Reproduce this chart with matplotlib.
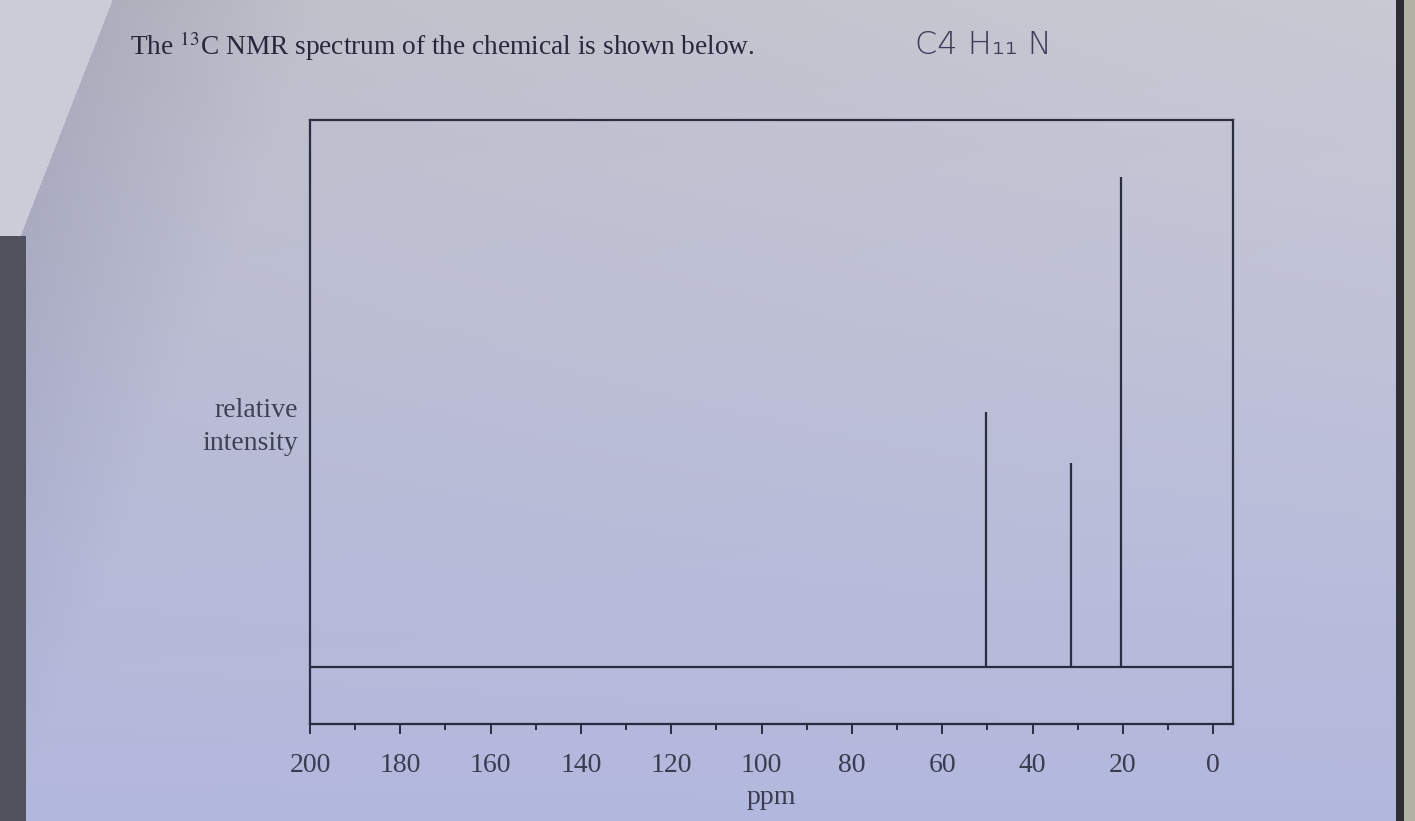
import numpy as np
import matplotlib
matplotlib.use('Agg')
import matplotlib.pyplot as plt
import matplotlib.ticker as ticker

# dados (isobutilamina, C4H11N)
shifts_ppm = [50.2, 31.5, 20.4]
intensidade = [52.0, 41.6, 100.0]
x_ticks = [200, 180, 160, 140, 120, 100, 80, 60, 40, 20, 0]

cor_tinta = '#2a2c40'
W, H = 1415, 821

fig = plt.figure(figsize=(W / 100, H / 100), dpi=100)

# ------------------------------------------------------------------
# fundo da foto (papel iluminado, sombra da dobra, bordas escuras)
# ------------------------------------------------------------------
yy, xx = np.mgrid[0:H, 0:W]
fy = yy / H
fx = xx / W
topo = np.array([0.77, 0.77, 0.81])
base = np.array([0.70, 0.72, 0.87])
img = topo[None, None, :] * (1 - fy[..., None]) + base[None, None, :] * fy[..., None]
img = img + 0.04 * (fx[..., None] - 0.5) * (1 - fy[..., None])
# dobra do papel no canto superior esquerdo
d = xx + 0.39 * yy - 112
dobra = d < 0
img[dobra] = np.array([0.80, 0.80, 0.85])
sombra = np.clip(1 - d / 220.0, 0, 1) * (~dobra)
img = img - 0.07 * sombra[..., None] * np.array([1.0, 1.0, 0.8])
# faixa escura a esquerda e borda a direita
img[(xx < 26) & (yy > 235)] = np.array([0.32, 0.32, 0.37])
img[:, 1396:1404] = np.array([0.18, 0.18, 0.20])
img[:, 1404:] = np.array([0.70, 0.70, 0.64])
img = np.clip(img, 0, 1)

ax_bg = fig.add_axes([0, 0, 1, 1], zorder=-1)
ax_bg.imshow(img, aspect='auto', interpolation='bilinear')
ax_bg.axis('off')

# ------------------------------------------------------------------
# espectro
# ------------------------------------------------------------------
ax = fig.add_axes([310 / W, 1 - 724 / H, 923 / W, 604 / H])
ax.patch.set_alpha(0)

ax.hlines(0, 200, -4.4, color=cor_tinta, lw=1.6)
ax.vlines(shifts_ppm, 0, intensidade, color=cor_tinta, lw=1.6)

ax.set_xlim(200, -4.4)
ax.set_ylim(-11.6, 111.6)

ax.set_xticks(x_ticks)
ax.set_xticklabels([str(t) for t in x_ticks])
ax.xaxis.set_minor_locator(ticker.MultipleLocator(10))
ax.set_yticks([])
ax.tick_params(axis='x', which='major', direction='out', length=7, width=1.4,
               color=cor_tinta, labelsize=20, labelcolor='#3a3c52', pad=14)
ax.tick_params(axis='x', which='minor', direction='out', length=4.5, width=1.4,
               color=cor_tinta)
for lab in ax.get_xticklabels():
    lab.set_family('Liberation Serif')

for sp in ax.spines.values():
    sp.set_color(cor_tinta)
    sp.set_linewidth(1.6)

ax.set_xlabel('ppm', fontsize=20, family='Liberation Serif', color='#3a3c52', labelpad=5)

# textos da pagina
fig.text(298 / W, 1 - 427 / H, 'relative\nintensity', ha='right', va='center',
         fontsize=20, family='Liberation Serif', color='#3e4056', linespacing=1.4)
fig.text(130 / W, 1 - 46 / H, 'The $^{13}$C NMR spectrum of the chemical is shown below.',
         ha='left', va='center', fontsize=19.7, family='Liberation Serif', color='#25273a',
         math_fontfamily='stix')
fig.text(915 / W, 1 - 45 / H, 'C4 H\u2081\u2081 N', ha='left', va='center',
         fontsize=23, family='DejaVu Sans', fontweight='light', color='#3a3c58')

fig.savefig('out.png', dpi=100)
